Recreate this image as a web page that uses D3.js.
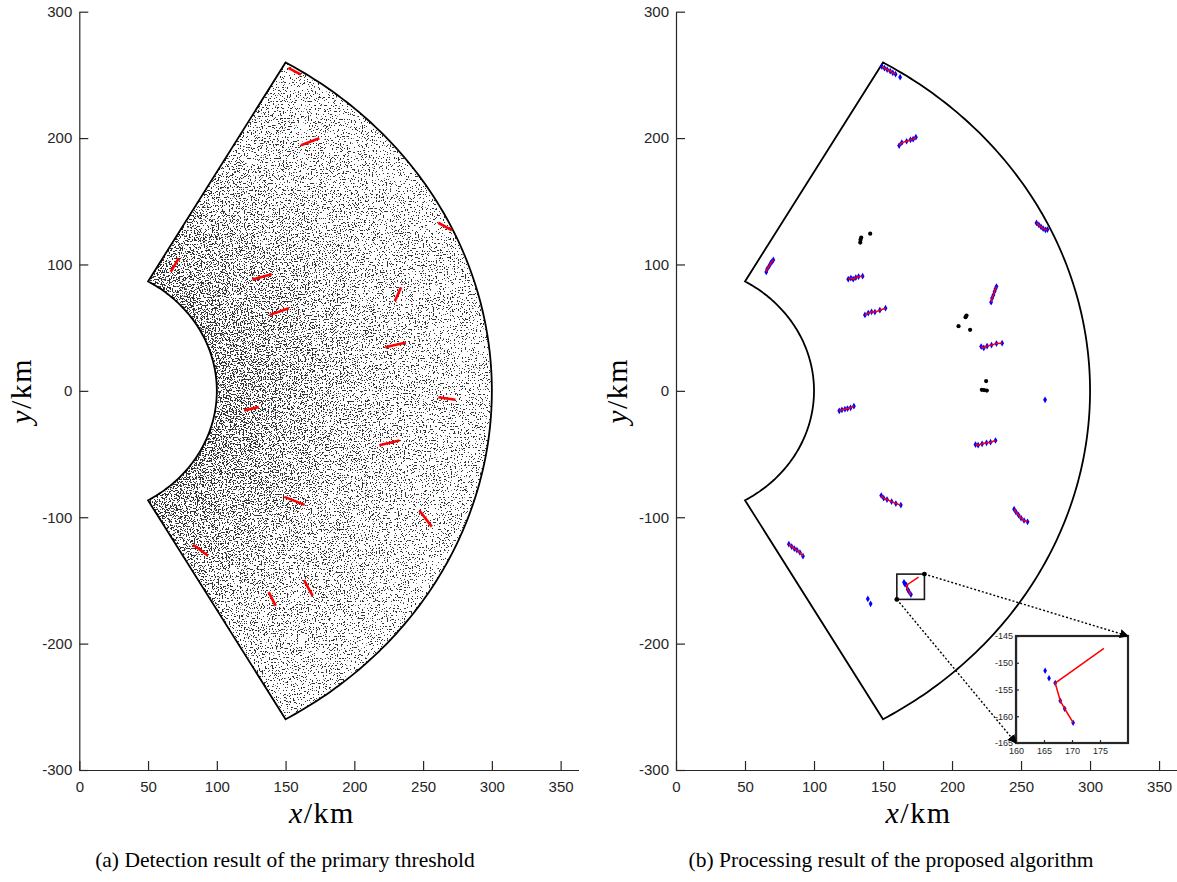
<!DOCTYPE html>
<html>
<head>
<meta charset="utf-8">
<script src="https://cdn.jsdelivr.net/npm/d3@7"></script>
<style>
body { margin: 0; background: #fff; }
svg { display: block; }
.tick text { font-family: "Liberation Sans", Arial, sans-serif; font-size: 15px; fill: #262626; }
.axis path, .axis line { stroke: #262626; stroke-width: 1.2; }
.inset .tick text { font-size: 9px; }
.lbl { font-family: "Liberation Serif", "Times New Roman", serif; fill: #000; }
</style>
</head>
<body>
<div id="chart"></div>
<script>
// axis ticks
var xTicks = [0, 50, 100, 150, 200, 250, 300, 350];
var yTicks = [-300, -200, -100, 0, 100, 200, 300];
var insetXTicks = [160, 165, 170, 175];
var insetYTicks = [-165, -160, -155, -150, -145];

// surveillance sector (km / degrees)
var sectorRange = [100, 300];
var sectorAzimuth = [-60, 60];

// (a) true target tracks  [x0, y0, x1, y1]
var tracksA = [
  [152.0, 255.5, 161.2, 250.2],
  [161.2, 194.4, 174.5, 199.9],
  [261.0, 133.0, 271.0, 127.0],
  [66.5, 94.1, 72.3, 105.0],
  [125.8, 88.1, 139.9, 92.3],
  [138.5, 60.1, 152.5, 65.4],
  [229.5, 71.0, 234.0, 82.0],
  [222.5, 34.5, 237.5, 38.2],
  [119.8, -15.6, 130.5, -12.7],
  [261.1, -5.0, 273.5, -7.1],
  [218.2, -43.0, 232.7, -39.3],
  [149.1, -83.9, 163.9, -90.2],
  [247.3, -94.7, 256.3, -107.4],
  [82.8, -121.8, 93.6, -130.5],
  [163.4, -149.8, 169.7, -162.2],
  [137.7, -159.3, 142.8, -170.1]
];

// (b) confirmed tracks (blue detections joined by red line)
var tracksB = [
  [[149.2, 256.6], [151.1, 255.3], [153.0, 254.2], [155.2, 252.9], [157.1, 251.6], [159.1, 250.6]],
  [[161.7, 194.1], [163.6, 196.4], [167.1, 197.5], [169.9, 198.6], [171.8, 199.1], [173.8, 200.7]],
  [[261.2, 132.9], [262.9, 131.3], [264.5, 129.7], [266.0, 128.4], [267.7, 127.4], [269.1, 127.6]],
  [[65.4, 94.1], [66.1, 96.5], [67.6, 98.9], [68.6, 101.0], [69.5, 102.1], [70.5, 103.6]],
  [[124.8, 88.4], [126.7, 89.2], [128.4, 88.4], [130.3, 89.6], [132.3, 90.4], [135.2, 90.7]],
  [[136.9, 60.1], [139.3, 61.5], [141.7, 62.5], [144.1, 62.3], [147.7, 63.8], [151.8, 65.4]],
  [[118.3, -15.8], [120.2, -15.0], [122.4, -14.5], [124.3, -14.0], [126.5, -13.4], [128.9, -12.1]],
  [[228.3, 70.2], [229.0, 73.3], [230.0, 75.9], [230.8, 78.6], [231.5, 80.7], [232.2, 82.5]],
  [[221.1, 35.0], [223.0, 34.0], [225.4, 35.4], [228.6, 36.2], [232.2, 37.4], [236.3, 37.7]],
  [[217.0, -42.5], [218.9, -43.0], [221.8, -41.9], [225.0, -41.1], [227.9, -40.6], [231.5, -39.3]],
  [[148.7, -82.8], [150.5, -84.9], [152.9, -86.0], [156.2, -87.6], [159.3, -89.2], [162.9, -90.4]],
  [[245.0, -93.6], [246.4, -96.0], [248.2, -98.3], [250.0, -100.7], [252.2, -102.6], [254.7, -103.6]],
  [[81.8, -121.3], [83.8, -123.2], [85.7, -124.8], [87.6, -126.0], [89.8, -127.9], [92.0, -130.8]]
];

// track inside the zoomed box
var boxTrackLine = [[175.7, -147.3], [167.0, -153.8], [167.9, -157.1], [168.7, -158.6], [170.2, -161.2]];
var boxTrackDets = [[165.2, -151.5], [165.9, -152.9], [167.0, -153.8], [167.9, -157.1], [168.7, -158.6], [170.2, -161.2]];

// isolated blue detections
var strayDets = [[162.4, 248.2], [267.4, -7.1], [139.0, -164.6], [141.0, -168.5]];

// black residual points
var blackDets = [
  [134.2, 121.3], [133.7, 119.5], [133.5, 117.3], [140.7, 124.4],
  [210.5, 59.6], [209.8, 58.3], [204.7, 51.2], [213.1, 48.3],
  [224.7, 7.7], [221.6, 0.8], [223.2, 0.6], [225.2, 0.2]
];

// zoom window [xmin, xmax, ymin, ymax]
var zoomBox = [160, 180, -165, -145];

var W = 1177, H = 882;
var svg = d3.select("#chart").append("svg").attr("width", W).attr("height", H);
var defs = svg.append("defs");

var y = d3.scaleLinear().domain([-300, 300]).range([770, 11.7]);
var xA = d3.scaleLinear().domain([0, 363]).range([79.3, 578.5]);
var xB = d3.scaleLinear().domain([0, 363]).range([676, 1177]);

function sectorPts() {
  var pts = [], n = 160, a0 = sectorAzimuth[0], a1 = sectorAzimuth[1], i, a;
  for (i = 0; i <= n; i++) {
    a = (a0 + (a1 - a0) * i / n) * Math.PI / 180;
    pts.push([sectorRange[1] * Math.cos(a), sectorRange[1] * Math.sin(a)]);
  }
  for (i = n; i >= 0; i--) {
    a = (a0 + (a1 - a0) * i / n) * Math.PI / 180;
    pts.push([sectorRange[0] * Math.cos(a), sectorRange[0] * Math.sin(a)]);
  }
  return pts;
}
function lineFor(x, yy) {
  return d3.line().x(function(d) { return x(d[0]); }).y(function(d) { return yy(d[1]); });
}

function drawAxes(g, x, ylabX) {
  g.append("g").attr("class", "axis")
    .attr("transform", "translate(0," + y.range()[0] + ")")
    .call(d3.axisBottom(x).tickValues(xTicks).tickSizeInner(-9).tickSizeOuter(0).tickPadding(11)
      .tickFormat(function(d) { return String(d); }));
  g.append("g").attr("class", "axis")
    .attr("transform", "translate(" + x.range()[0] + ",0)")
    .call(d3.axisLeft(y).tickValues(yTicks).tickSizeInner(-9).tickSizeOuter(0).tickPadding(7)
      .tickFormat(function(d) { return String(d); }));
  g.selectAll(".axis .domain").attr("stroke", "#262626");

  var cx = (x.range()[0] + Math.min(x.range()[1], 1175)) / 2 - 7;
  var xl = g.append("text").attr("class", "lbl").attr("x", cx).attr("y", 823)
    .attr("text-anchor", "middle").attr("font-size", 30).attr("letter-spacing", 1.5);
  xl.append("tspan").attr("font-style", "italic").text("x");
  xl.append("tspan").text("/km");
  var yl = g.append("text").attr("class", "lbl")
    .attr("transform", "translate(" + ylabX + "," + y(0) + ") rotate(-90)")
    .attr("text-anchor", "middle").attr("font-size", 30).attr("letter-spacing", 1.5);
  yl.append("tspan").attr("font-style", "italic").text("y");
  yl.append("tspan").text("/km");
}

// ---------- clutter texture for panel (a) ----------
defs.append("clipPath").attr("id", "secClipA")
  .append("path").attr("d", lineFor(xA, y)(sectorPts()) + "Z");

var kx = xA(1) - xA(0), ky = y(0) - y(1);
var grad = defs.append("radialGradient").attr("id", "ramp")
  .attr("gradientUnits", "userSpaceOnUse")
  .attr("cx", xA(0)).attr("cy", y(0)).attr("r", xA(300) - xA(0))
  .attr("gradientTransform", "translate(" + xA(0) + "," + y(0) + ") scale(1," + (ky / kx) + ") translate(" + (-xA(0)) + "," + (-y(0)) + ")");
grad.append("stop").attr("offset", 0).attr("stop-color", "rgb(28,0,0)");
grad.append("stop").attr("offset", 0.333).attr("stop-color", "rgb(28,0,0)");
grad.append("stop").attr("offset", 0.667).attr("stop-color", "rgb(10,0,0)");
grad.append("stop").attr("offset", 1).attr("stop-color", "rgb(0,0,0)");

var table = [];
for (var k = 0; k < 100; k++) table.push(k >= 65 ? 0.8 : (k >= 64 ? 0.45 : 0));
var flt = defs.append("filter").attr("id", "clutter")
  .attr("filterUnits", "userSpaceOnUse").attr("x", 0).attr("y", 0).attr("width", W).attr("height", H)
  .attr("color-interpolation-filters", "sRGB");
flt.append("feTurbulence").attr("type", "fractalNoise").attr("baseFrequency", 0.72)
  .attr("numOctaves", 2).attr("seed", 11).attr("result", "noise");
flt.append("feColorMatrix").attr("in", "noise").attr("type", "matrix")
  .attr("values", "1 0 0 0 0  0 0 0 0 0  0 0 0 0 0  0 0 0 0 1").attr("result", "n1");
flt.append("feComposite").attr("in", "n1").attr("in2", "SourceGraphic").attr("operator", "arithmetic")
  .attr("k1", 0).attr("k2", 1).attr("k3", 1).attr("k4", 0).attr("result", "sum");
flt.append("feColorMatrix").attr("in", "sum").attr("type", "matrix")
  .attr("values", "0 0 0 0 0  0 0 0 0 0  0 0 0 0 0  1 0 0 0 0").attr("result", "alpha");
flt.append("feComponentTransfer").attr("in", "alpha")
  .append("feFuncA").attr("type", "discrete").attr("tableValues", table.join(" "));

// ---------- panel (a) ----------
var gA = svg.append("g");
gA.append("rect")
  .attr("x", xA(0)).attr("y", y(300)).attr("width", xA(363) - xA(0)).attr("height", y(-300) - y(300))
  .attr("fill", "url(#ramp)").attr("filter", "url(#clutter)").attr("clip-path", "url(#secClipA)");
gA.append("path").attr("d", lineFor(xA, y)(sectorPts()) + "Z")
  .attr("fill", "none").attr("stroke", "#000").attr("stroke-width", 1.8);
gA.selectAll(".trk").data(tracksA).enter().append("line")
  .attr("x1", function(d) { return xA(d[0]); }).attr("y1", function(d) { return y(d[1]); })
  .attr("x2", function(d) { return xA(d[2]); }).attr("y2", function(d) { return y(d[3]); })
  .attr("stroke", "#ff0000").attr("stroke-width", 2.6);
drawAxes(gA, xA, 31);

// ---------- panel (b) ----------
var gB = svg.append("g");
gB.append("path").attr("d", lineFor(xB, y)(sectorPts()) + "Z")
  .attr("fill", "none").attr("stroke", "#000").attr("stroke-width", 1.8);

var diamond = d3.symbol().type(d3.symbolDiamond).size(13);
var allDets = [];
tracksB.forEach(function(t) { allDets = allDets.concat(t); });
allDets = allDets.concat(boxTrackDets, strayDets);
gB.selectAll(".det").data(allDets).enter().append("path")
  .attr("d", diamond).attr("fill", "#0000ff")
  .attr("transform", function(d) { return "translate(" + xB(d[0]) + "," + y(d[1]) + ")"; });
gB.selectAll(".trkB").data(tracksB.concat([boxTrackLine])).enter().append("path")
  .attr("d", lineFor(xB, y)).attr("fill", "none").attr("stroke", "#ff0000").attr("stroke-width", 1.5);
gB.selectAll(".blk").data(blackDets).enter().append("circle")
  .attr("cx", function(d) { return xB(d[0]); }).attr("cy", function(d) { return y(d[1]); })
  .attr("r", 2.1).attr("fill", "#000");

// zoom window on the main axes
gB.append("rect")
  .attr("x", xB(zoomBox[0])).attr("y", y(zoomBox[3]))
  .attr("width", xB(zoomBox[1]) - xB(zoomBox[0])).attr("height", y(zoomBox[2]) - y(zoomBox[3]))
  .attr("fill", "none").attr("stroke", "#1a1a1a").attr("stroke-width", 1.6);

// inset axes
var ix = d3.scaleLinear().domain([zoomBox[0], zoomBox[1]]).range([1016, 1128]);
var iy = d3.scaleLinear().domain([zoomBox[2], zoomBox[3]]).range([743, 636]);
var gI = svg.append("g").attr("class", "inset");
gI.append("rect").attr("x", 1016).attr("y", 636).attr("width", 112).attr("height", 107)
  .attr("fill", "#fff");
defs.append("clipPath").attr("id", "insetClip").append("rect")
  .attr("x", 1016).attr("y", 636).attr("width", 112).attr("height", 107);
var gIc = gI.append("g").attr("clip-path", "url(#insetClip)");
gIc.selectAll(".idet").data(boxTrackDets).enter().append("path")
  .attr("d", d3.symbol().type(d3.symbolDiamond).size(12)).attr("fill", "#0000ff")
  .attr("transform", function(d) { return "translate(" + ix(d[0]) + "," + iy(d[1]) + ")"; });
gIc.append("path").datum(boxTrackLine).attr("d", lineFor(ix, iy))
  .attr("fill", "none").attr("stroke", "#ff0000").attr("stroke-width", 1.5);
gI.append("g").attr("class", "axis").attr("transform", "translate(0,743)")
  .call(d3.axisBottom(ix).tickValues(insetXTicks).tickSizeInner(-3).tickSizeOuter(0).tickPadding(5)
    .tickFormat(function(d) { return String(d); }));
gI.append("g").attr("class", "axis").attr("transform", "translate(1016,0)")
  .call(d3.axisLeft(iy).tickValues(insetYTicks).tickSizeInner(-3).tickSizeOuter(0).tickPadding(3)
    .tickFormat(function(d) { return String(d); }));
gI.selectAll(".axis .domain").attr("stroke", "none");
gI.append("rect").attr("x", 1016).attr("y", 636).attr("width", 112).attr("height", 107)
  .attr("fill", "none").attr("stroke", "#262626").attr("stroke-width", 2.2);

// connectors with end dots and arrow heads
defs.append("marker").attr("id", "arrow").attr("viewBox", "0 0 10 10").attr("refX", 9).attr("refY", 5)
  .attr("markerWidth", 9).attr("markerHeight", 9).attr("markerUnits", "userSpaceOnUse").attr("orient", "auto")
  .append("path").attr("d", "M0,0L10,5L0,10Z").attr("fill", "#000");
var links = [
  [[zoomBox[1], zoomBox[3]], [zoomBox[1], zoomBox[3]]],
  [[zoomBox[0], zoomBox[2]], [zoomBox[0], zoomBox[2]]]
];
links.forEach(function(l) {
  var x1 = xB(l[0][0]), y1 = y(l[0][1]), x2 = ix(l[1][0]), y2 = iy(l[1][1]);
  svg.append("line").attr("x1", x1).attr("y1", y1).attr("x2", x2).attr("y2", y2)
    .attr("stroke", "#000").attr("stroke-width", 1.4).attr("stroke-dasharray", "2,2")
    .attr("marker-end", "url(#arrow)");
  svg.append("circle").attr("cx", x1).attr("cy", y1).attr("r", 2.4).attr("fill", "#000");
});

drawAxes(gB, xB, 627);

// captions
svg.append("text").attr("class", "lbl").attr("x", 285).attr("y", 867).attr("text-anchor", "middle")
  .attr("font-size", 21.5).text("(a) Detection result of the primary threshold");
svg.append("text").attr("class", "lbl").attr("x", 891).attr("y", 867).attr("text-anchor", "middle")
  .attr("font-size", 21.5).text("(b) Processing result of the proposed algorithm");
</script>
</body>
</html>
